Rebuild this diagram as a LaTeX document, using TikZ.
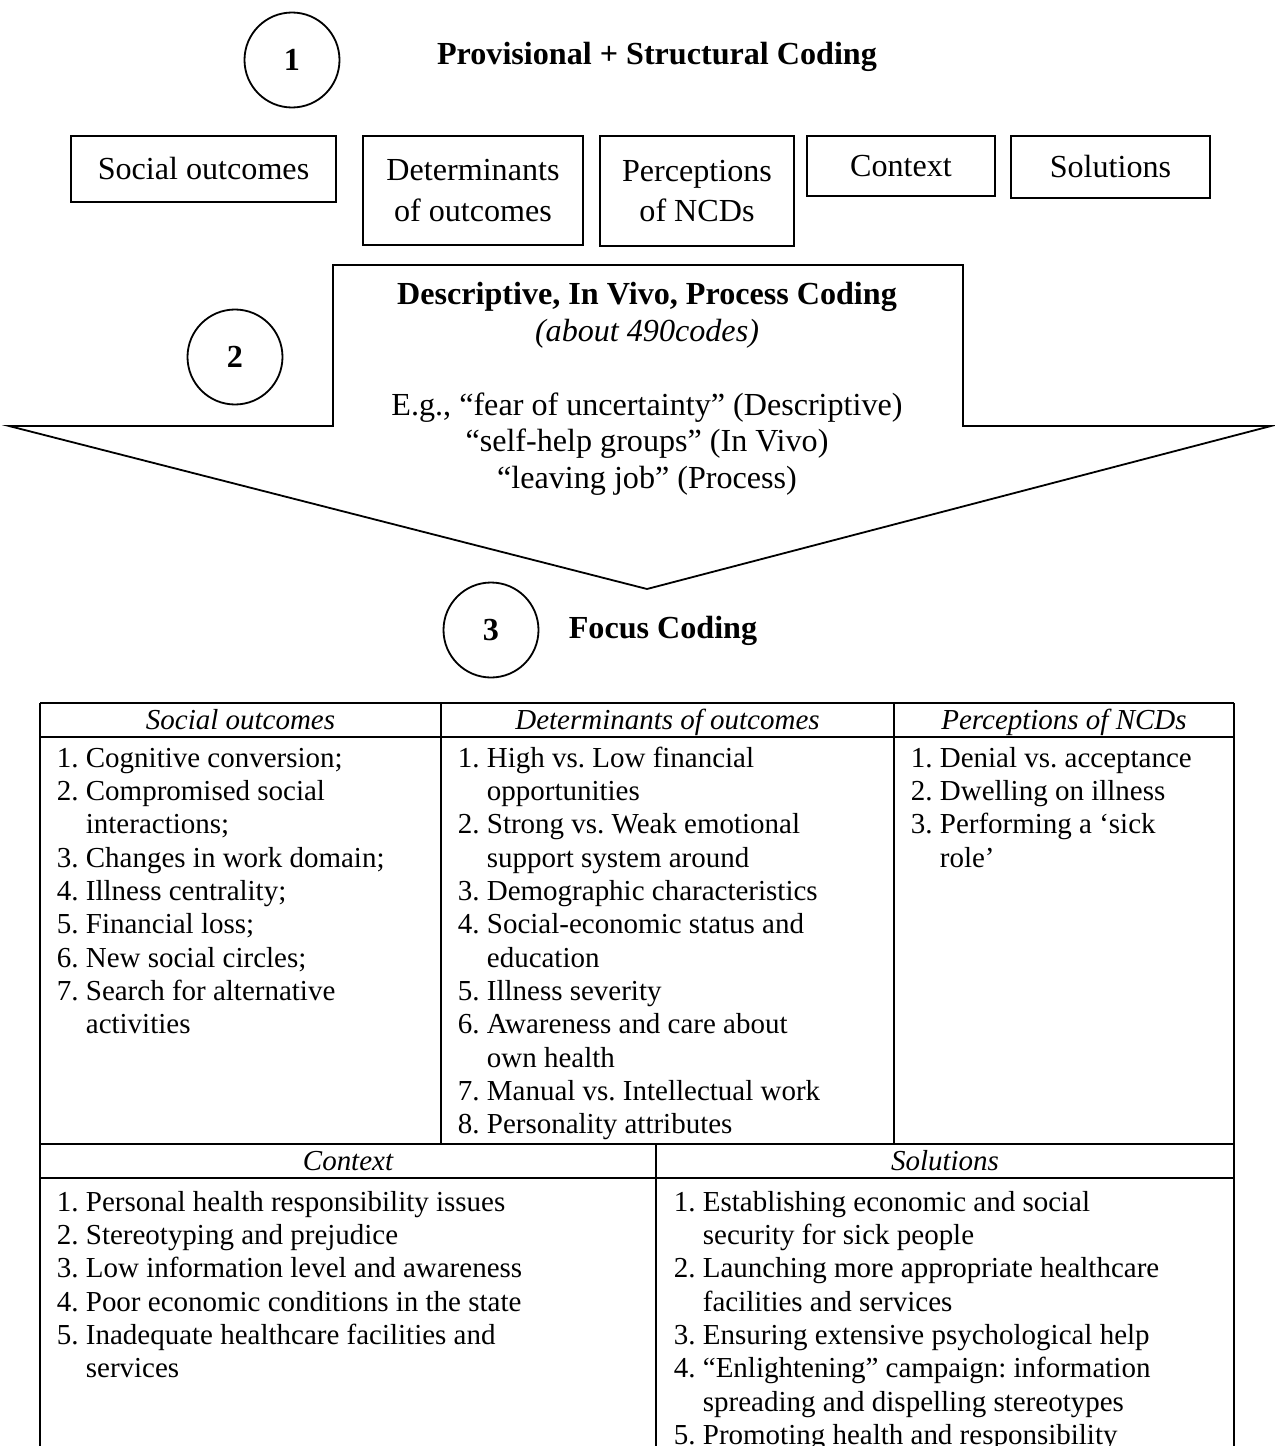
\documentclass[tikz,border=0pt]{standalone}
\usepackage{fontspec}
\setmainfont{Liberation Serif}
\frenchspacing
\newcommand{\px}{0.414pt}
\newcommand{\codelist}[1]{\begin{tabular}{@{}l@{\ }l@{}}#1\end{tabular}}
\begin{document}
\begin{tikzpicture}[
  x=\px, y=-\px,
  line width=0.75pt,
  every node/.style={
    inner sep=0pt,
    font=\fontsize{13.3}{16.6}\selectfont
  },
  numcirc/.style={draw, circle, minimum size=95*\px, font=\fontsize{13.3}{16}\selectfont\bfseries},
  stagetitle/.style={font=\fontsize{13.3}{16}\selectfont\bfseries},
  codebox/.style={draw, align=center},
  colhead/.style={anchor=base, font=\fontsize{12}{13.8}\selectfont\itshape},
  cellbody/.style={anchor=north west, font=\fontsize{12}{13.8}\selectfont}
]
\useasboundingbox (0,0) rectangle (1274,1446);

\node[numcirc] (c1) at (292,60) {1};
\node[stagetitle] (t1) at (657,57) {Provisional + Structural Coding};

\node[codebox, minimum width=265*\px, minimum height=66*\px] (so) at (203.5,169) {Social outcomes};
\node[codebox, minimum width=220*\px, minimum height=109*\px] (det) at (473,190.5) {Determinants\\of outcomes};
\node[codebox, minimum width=194*\px, minimum height=110*\px] (per) at (697,191) {Perceptions\\of NCDs};
\node[codebox, minimum width=188*\px, minimum height=60*\px] (con) at (901,166) {Context};
\node[codebox, minimum width=199*\px, minimum height=62*\px] (sol) at (1110.5,167) {Solutions};

\draw (333,265) -- (963,265) -- (963,426) -- (1271,426) -- (647,589) -- (9,426) -- (333,426) -- cycle;
\node[numcirc] (c2) at (235,357) {2};
\node[align=center, font=\fontsize{13.3}{15.2}\selectfont] (desc) at (647,389)
  {\textbf{Descriptive, In Vivo, Process Coding}\\\textit{(about 490codes)}\\[15.2pt]
   E.g., “fear of uncertainty” (Descriptive)\\“self-help groups” (In Vivo)\\“leaving job” (Process)};

\node[numcirc] (c3) at (491,630) {3};
\node[stagetitle] (t3) at (663,631) {Focus Coding};

% table
\draw (40,703) -- (1234,703);
\draw (40,737) -- (1234,737);
\draw (40,1144) -- (1234,1144);
\draw (40,1178) -- (1234,1178);
\draw (40,703) -- (40,1446);
\draw (1234,703) -- (1234,1446);
\draw (441,703) -- (441,1144);
\draw (894,703) -- (894,1144);
\draw (656,1144) -- (656,1446);

\node[colhead] (h1) at (240.5,729) {Social outcomes};
\node[colhead] (h2) at (667.5,729) {Determinants of outcomes};
\node[colhead] (h3) at (1064,729) {Perceptions of NCDs};
\node[colhead] (h4) at (348,1170) {Context};
\node[colhead] (h5) at (945,1170) {Solutions};

\node[cellbody] (b1) at (56,743) {\codelist{
  1. & Cognitive conversion;\\
  2. & Compromised social\\
     & interactions;\\
  3. & Changes in work domain;\\
  4. & Illness centrality;\\
  5. & Financial loss;\\
  6. & New social circles;\\
  7. & Search for alternative\\
     & activities}};
\node[cellbody] (b2) at (457,743) {\codelist{
  1. & High vs. Low financial\\
     & opportunities\\
  2. & Strong vs. Weak emotional\\
     & support system around\\
  3. & Demographic characteristics\\
  4. & Social-economic status and\\
     & education\\
  5. & Illness severity\\
  6. & Awareness and care about\\
     & own health\\
  7. & Manual vs. Intellectual work\\
  8. & Personality attributes}};
\node[cellbody] (b3) at (910,743) {\codelist{
  1. & Denial vs. acceptance\\
  2. & Dwelling on illness\\
  3. & Performing a ‘sick\\
     & role’}};
\node[cellbody] (b4) at (56,1187) {\codelist{
  1. & Personal health responsibility issues\\
  2. & Stereotyping and prejudice\\
  3. & Low information level and awareness\\
  4. & Poor economic conditions in the state\\
  5. & Inadequate healthcare facilities and\\
     & services}};
\node[cellbody] (b5) at (673,1187) {\codelist{
  1. & Establishing economic and social\\
     & security for sick people\\
  2. & Launching more appropriate healthcare\\
     & facilities and services\\
  3. & Ensuring extensive psychological help\\
  4. & “Enlightening” campaign: information\\
     & spreading and dispelling stereotypes\\
  5. & Promoting health and responsibility}};
\end{tikzpicture}
\end{document}
